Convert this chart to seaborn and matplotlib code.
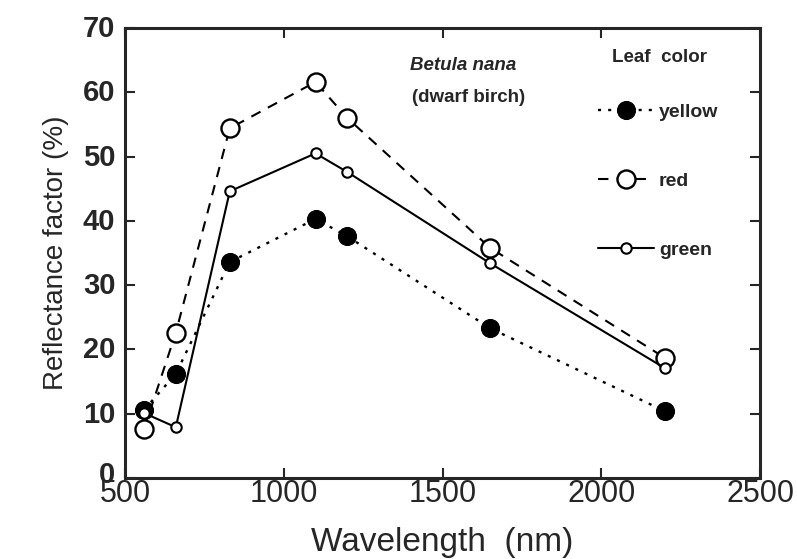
import matplotlib
matplotlib.use("Agg")
import matplotlib.pyplot as plt
import matplotlib.transforms as mtransforms
import seaborn as sns
import pandas as pd

wavelength = [560, 660, 830, 1100, 1200, 1650, 2200]
yellow = [10.6, 16.2, 33.6, 40.3, 37.6, 23.3, 10.4]
red = [7.6, 22.6, 54.4, 61.6, 56.0, 35.8, 18.7]
green = [10.1, 7.9, 44.6, 50.5, 47.6, 33.4, 17.1]
x_ticks = [500, 1000, 1500, 2000, 2500]
y_ticks = [0, 10, 20, 30, 40, 50, 60, 70]

sns.set_style("ticks")
plt.rcParams['font.family'] = ['Liberation Sans', 'DejaVu Sans']

W, H = 797, 559
fig = plt.figure(figsize=(W / 100, H / 100), dpi=100)
ax = fig.add_axes([125 / W, 1 - 478 / H, 635 / W, 450 / H])

df = pd.DataFrame({"wl": wavelength, "yellow": yellow, "red": red, "green": green})

sns.lineplot(data=df, x="wl", y="yellow", ax=ax, color="black", linestyle=(0, (1.3, 3.0)),
             linewidth=1.7, marker="o", markersize=13, markerfacecolor="black",
             markeredgecolor="black", label="yellow")
sns.lineplot(data=df, x="wl", y="red", ax=ax, color="black", linestyle=(0, (5, 4)),
             linewidth=1.5, marker="o", markersize=13, markerfacecolor="white",
             markeredgecolor="black", markeredgewidth=1.7, label="red")
sns.lineplot(data=df, x="wl", y="green", ax=ax, color="black", linestyle="-",
             linewidth=1.5, marker="o", markersize=7.5, markerfacecolor="white",
             markeredgecolor="black", markeredgewidth=1.5, label="green")

ax.set_xlim(500, 2500)
ax.set_ylim(0, 70)
ax.set_xticks(x_ticks)
ax.set_yticks(y_ticks)
ax.set_xticklabels([str(t) for t in x_ticks], fontsize=22)
ax.set_yticklabels([str(t) for t in y_ticks], fontsize=21, fontweight="bold")
ax.tick_params(direction="in", length=7, width=1.5, top=True, right=True)
ax.tick_params(axis="y", pad=7)
ax.tick_params(axis="x", pad=1)
for s in ax.spines.values():
    s.set_linewidth(2.2)
    s.set_visible(True)

# raise y tick labels slightly (the "0" more, as in the reference)
for lab in ax.get_yticklabels():
    dy = 6 if lab.get_text() == "0" else 2
    lab.set_transform(lab.get_transform() +
                      mtransforms.ScaledTranslation(0, dy / 100, fig.dpi_scale_trans))

ax.set_xlabel("Wavelength  (nm)", fontsize=24, labelpad=13)
ax.set_ylabel("Reflectance factor (%)", fontsize=20, labelpad=10)

fig.text(516 / W, 1 - 66 / H, "Betula nana", fontsize=13.5,
         fontstyle="italic", fontweight="bold", ha="right", va="center")
fig.text(525 / W, 1 - 97 / H, "(dwarf birch)", fontsize=13.5,
         fontweight="bold", ha="right", va="center")
fig.text(660 / W, 1 - 57 / H, "Leaf  color", fontsize=13.5,
         fontweight="bold", ha="center", va="center")

leg = ax.legend(loc="upper left", bbox_to_anchor=(0.732, 0.85), frameon=False,
                fontsize=14, handlelength=2.9, labelspacing=2.65,
                handletextpad=0.25, borderaxespad=0)
for t in leg.get_texts():
    t.set_fontweight("bold")

fig.savefig("out.png", dpi=100)
